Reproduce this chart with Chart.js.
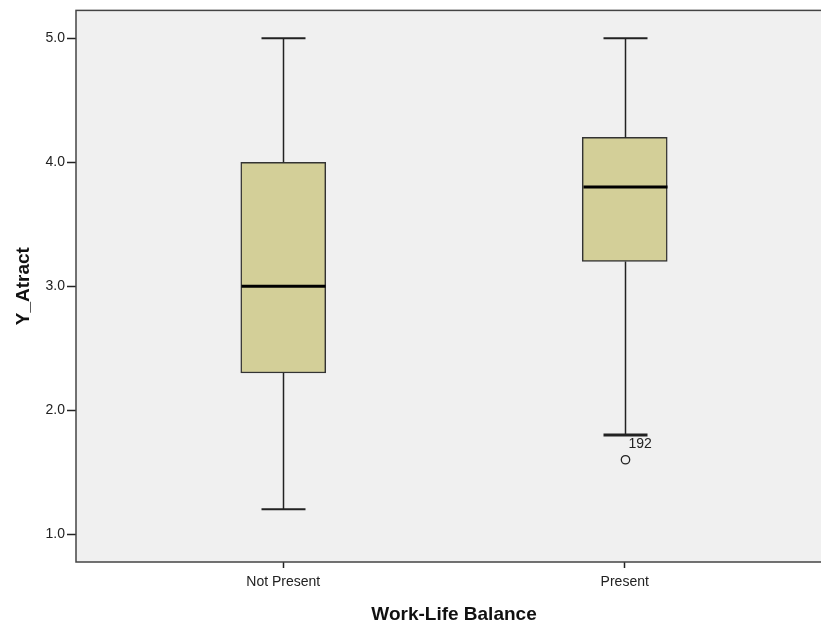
<!DOCTYPE html>
<html>
<head>
<meta charset="utf-8">
<script src="https://cdn.jsdelivr.net/npm/chart.js@4.4.0/dist/chart.umd.min.js"></script>
<style>
  html, body { margin: 0; padding: 0; background: #fff; overflow: hidden; }
  #wrap { position: absolute; left: 0; top: 0; width: 834px; height: 626px; }
</style>
</head>
<body>
<div id="wrap"><canvas id="myChart"></canvas></div>
<script>
// Box plot data
const categories = ['Not Present', 'Present'];
const positions = [1, 2];
const whiskerLow = [1.2, 1.8];
const q1 = [2.3, 3.2];
const median = [3.0, 3.8];
const q3 = [4.0, 4.2];
const whiskerHigh = [5.0, 5.0];
const outliers = [[], [1.6]];
const outlierLabels = [[], ['192']];
const yTicks = [1, 2, 3, 4, 5];

const FONT = "'Liberation Sans', Arial, sans-serif";

// whiskers, caps, medians, outliers drawn from the scales
const boxExtras = {
  id: 'boxExtras',
  beforeDraw(chart) {
    const { ctx, chartArea: a } = chart;
    ctx.save();
    ctx.fillStyle = '#f0f0f0';
    ctx.fillRect(a.left, a.top, a.right - a.left, a.bottom - a.top);
    ctx.restore();
  },
  afterDatasetsDraw(chart) {
    const { ctx, scales: { x, y }, chartArea: a } = chart;
    ctx.save();
    ctx.strokeStyle = '#222';
    positions.forEach((p, i) => {
      const px = Math.round(x.getPixelForValue(p)) + 0.5;
      const capHalf = 22;
      // whisker lines
      ctx.lineWidth = 1.5;
      ctx.beginPath();
      ctx.moveTo(px, y.getPixelForValue(q3[i]));
      ctx.lineTo(px, y.getPixelForValue(whiskerHigh[i]));
      ctx.moveTo(px, y.getPixelForValue(q1[i]));
      ctx.lineTo(px, y.getPixelForValue(whiskerLow[i]));
      ctx.stroke();
      // caps
      ctx.lineWidth = 2;
      ctx.beginPath();
      ctx.moveTo(px - capHalf, y.getPixelForValue(whiskerHigh[i]));
      ctx.lineTo(px + capHalf, y.getPixelForValue(whiskerHigh[i]));
      ctx.stroke();
      ctx.lineWidth = outliers[i].length ? 3 : 2;
      ctx.beginPath();
      ctx.moveTo(px - capHalf, y.getPixelForValue(whiskerLow[i]));
      ctx.lineTo(px + capHalf, y.getPixelForValue(whiskerLow[i]));
      ctx.stroke();
      // median
      ctx.strokeStyle = '#000';
      ctx.lineWidth = 3;
      ctx.beginPath();
      ctx.moveTo(px - 42, y.getPixelForValue(median[i]));
      ctx.lineTo(px + 42, y.getPixelForValue(median[i]));
      ctx.stroke();
      ctx.strokeStyle = '#222';
      // outliers
      outliers[i].forEach((v, j) => {
        const py = y.getPixelForValue(v);
        ctx.lineWidth = 1.3;
        ctx.beginPath();
        ctx.arc(px, py, 4.2, 0, Math.PI * 2);
        ctx.stroke();
        ctx.fillStyle = '#222';
        ctx.font = '14px ' + FONT;
        ctx.textAlign = 'left';
        ctx.textBaseline = 'middle';
        ctx.fillText(outlierLabels[i][j], px + 3, py - 16);
      });
    });
    // plot frame
    ctx.strokeStyle = '#444';
    ctx.lineWidth = 1.5;
    ctx.strokeRect(a.left, a.top, a.right - a.left, a.bottom - a.top);
    ctx.restore();
  }
};

const data = {
  datasets: [{
    label: 'Box',
    data: positions.map((p, i) => ({ x: p, y: [q1[i], q3[i]] })),
    backgroundColor: '#d3cf98',
    borderColor: '#333',
    borderWidth: 1.5,
    borderSkipped: false,
    barThickness: 85
  }]
};

const config = {
  type: 'bar',
  data: data,
  plugins: [boxExtras],
  options: {
    responsive: true,
    maintainAspectRatio: false,
    animation: false,
    layout: { padding: { top: 10, right: 2, left: 0, bottom: 0 } },
    plugins: { legend: { display: false }, tooltip: { enabled: false } },
    scales: {
      x: {
        type: 'linear',
        min: 0.393,
        max: 2.607,
        offset: false,
        afterBuildTicks(axis) { axis.ticks = positions.map(v => ({ value: v })); },
        afterFit(axis) { axis.height = 64; },
        ticks: {
          callback: v => categories[positions.indexOf(v)] || '',
          font: { family: FONT, size: 14 },
          color: '#222',
          padding: 6,
          maxRotation: 0
        },
        grid: { offset: false, drawOnChartArea: false, tickLength: 6, color: '#222', tickWidth: 1.5 },
        border: { display: false },
        title: {
          display: true,
          text: 'Work-Life Balance',
          font: { family: FONT, size: 19, weight: 'bold' },
          color: '#111',
          padding: { top: 4, bottom: 0 }
        }
      },
      y: {
        min: 0.775,
        max: 5.225,
        afterBuildTicks(axis) { axis.ticks = yTicks.map(v => ({ value: v })); },
        afterFit(axis) { axis.width = 76; },
        ticks: {
          callback: v => v.toFixed(1),
          font: { family: FONT, size: 14 },
          color: '#222',
          padding: 2
        },
        grid: { drawOnChartArea: false, tickLength: 9, color: '#222', tickWidth: 1.5 },
        border: { display: false },
        title: {
          display: true,
          text: 'Y_Atract',
          font: { family: FONT, size: 19, weight: 'bold' },
          color: '#111',
          padding: { top: 12, bottom: 0 }
        }
      }
    }
  }
};

const myChart = new Chart(document.getElementById('myChart'), config);
</script>
</body>
</html>
